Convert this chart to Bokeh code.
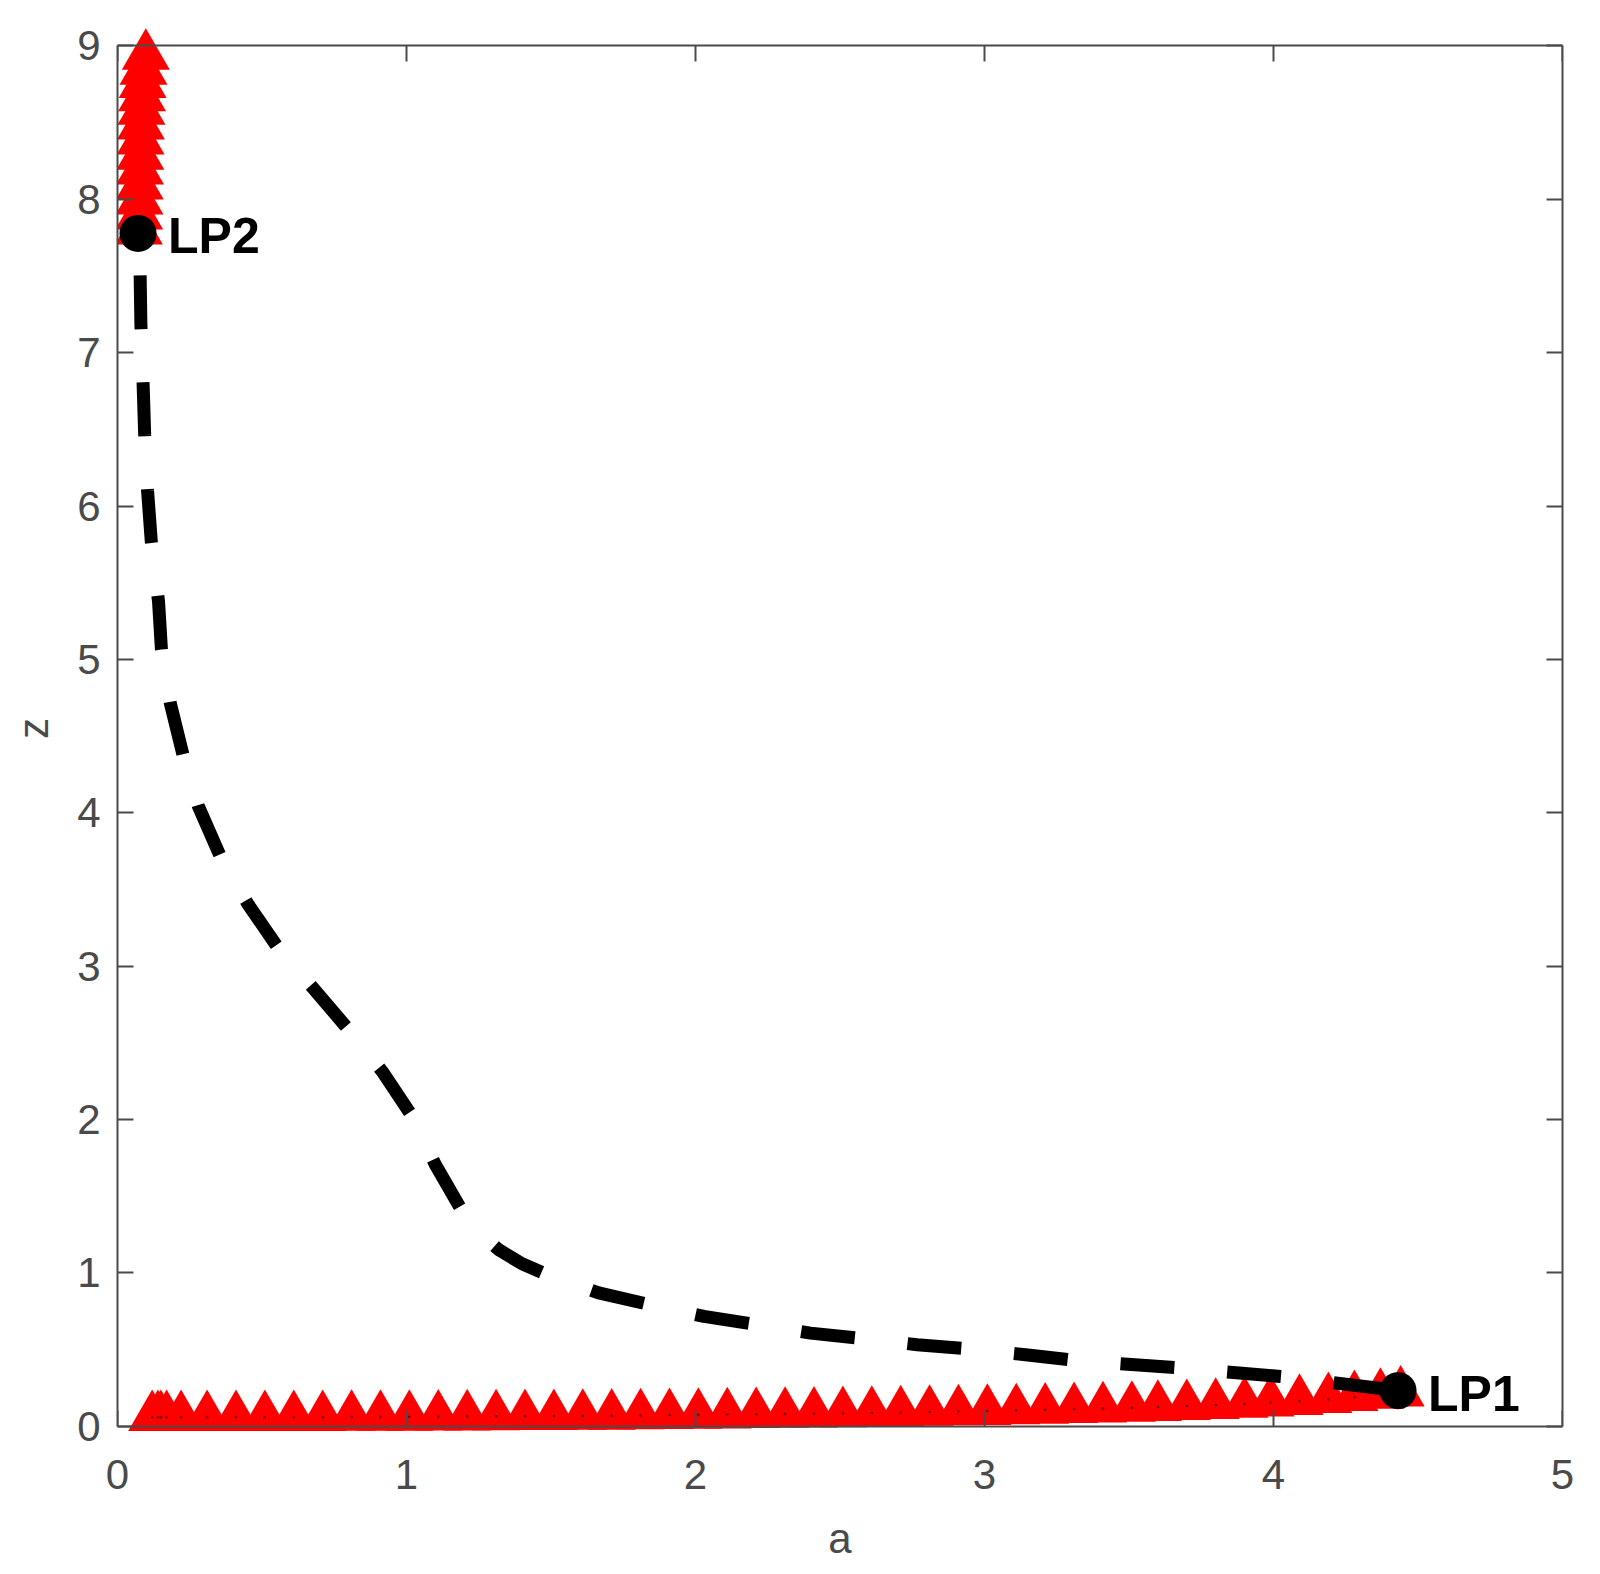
from bokeh.plotting import figure
from bokeh.models import LinearAxis, Range1d, FixedTicker
from bokeh.embed import file_html
from bokeh.resources import INLINE
from bokeh.core.properties import value

# Dashed branch from LP2 to LP1
curve_a = [0.071, 0.078, 0.081, 0.088, 0.094, 0.104, 0.117, 0.142, 0.152, 0.183,
           0.228, 0.280, 0.356, 0.450, 0.557, 0.678, 0.799, 0.916, 1.020, 1.100,
           1.193, 1.250, 1.319, 1.400, 1.487, 1.665, 1.850, 2.029, 2.213, 2.398,
           2.582, 2.767, 2.952, 3.142, 3.337, 3.690, 4.061, 4.431]
curve_z = [7.778, 7.551, 7.179, 6.833, 6.467, 6.101, 5.768, 5.378, 5.065, 4.713,
           4.368, 4.042, 3.716, 3.409, 3.116, 2.855, 2.588, 2.314, 2.021, 1.706,
           1.402, 1.265, 1.152, 1.060, 0.989, 0.870, 0.790, 0.717, 0.663, 0.608,
           0.572, 0.532, 0.504, 0.467, 0.426, 0.379, 0.319, 0.233]

# Limit points
lp_a = [0.071, 4.431]
lp_z = [7.778, 0.233]
lp_labels = ["LP2", "LP1"]

# Red triangle branch going up from LP2
top_a = [0.074, 0.075, 0.076, 0.077, 0.078, 0.079, 0.080, 0.081, 0.083, 0.085,
         0.087, 0.090, 0.098]
top_z = [7.796, 7.893, 7.991, 8.089, 8.187, 8.284, 8.382, 8.480, 8.577, 8.664,
         8.751, 8.837, 8.935]

# Red triangle branch along the bottom, ending at LP1
bottom_a = [0.12, 0.14, 0.15, 0.17, 0.22, 0.31, 0.41, 0.51, 0.61, 0.71, 0.81, 0.91,
            1.01, 1.11, 1.21, 1.31, 1.41, 1.51, 1.61, 1.71, 1.81, 1.91, 2.01, 2.11,
            2.21, 2.31, 2.41, 2.51, 2.61, 2.71, 2.81, 2.91, 3.01, 3.11, 3.21, 3.31,
            3.41, 3.51, 3.60, 3.70, 3.80, 3.90, 3.99, 4.09, 4.19, 4.28, 4.37, 4.44]
bottom_z = [0.060, 0.060, 0.060, 0.060, 0.060, 0.060, 0.060, 0.060, 0.060, 0.060, 0.061, 0.061,
            0.062, 0.063, 0.064, 0.065, 0.066, 0.067, 0.068, 0.069, 0.071, 0.073, 0.075, 0.077,
            0.079, 0.081, 0.083, 0.085, 0.088, 0.091, 0.094, 0.097, 0.100, 0.104, 0.108, 0.112,
            0.116, 0.120, 0.126, 0.132, 0.139, 0.146, 0.155, 0.165, 0.177, 0.190, 0.205, 0.220]

x_ticks = [0, 1, 2, 3, 4, 5]
y_ticks = [0, 1, 2, 3, 4, 5, 6, 7, 8, 9]
x_lim = (0, 5)
y_lim = (0, 9)

AX = "#4a4a4a"
FONT = "Liberation Sans"

# the frame is slightly taller than the axes box so that markers may
# overhang the box, as they do in the original
p = figure(frame_width=1445, frame_height=1408,
           x_range=Range1d(0, 5), y_range=Range1d(-0.04, 9.14),
           output_backend="svg", toolbar_location=None,
           min_border_left=117, min_border_right=24,
           min_border_top=24, min_border_bottom=130,
           background_fill_color="white", border_fill_color="white")

p.xgrid.visible = False
p.ygrid.visible = False
p.outline_line_color = None


def style(ax):
    ax.axis_line_color = AX
    ax.axis_line_width = 2
    ax.major_tick_line_color = AX
    ax.major_tick_line_width = 2
    ax.major_tick_in = 16
    ax.major_tick_out = 0
    ax.minor_tick_line_color = None


xa = p.xaxis[0]
ya = p.yaxis[0]
xa.ticker = FixedTicker(ticks=x_ticks)
ya.ticker = FixedTicker(ticks=y_ticks)
ya.bounds = y_lim
xa.axis_label = "a"
ya.axis_label = "z"
style(ya)
for ax in (xa, ya):
    ax.major_label_text_font = FONT
    ax.major_label_text_font_size = "42px"
    ax.major_label_text_color = AX
    ax.axis_label_text_font = FONT
    ax.axis_label_text_font_size = "42px"
    ax.axis_label_text_font_style = "normal"
    ax.axis_label_text_color = AX

# bottom axis: labels only (it sits at the frame's lower edge, just under z=0)
xa.axis_line_color = None
xa.major_tick_line_color = None
xa.minor_tick_line_color = None
xa.major_tick_in = 0
xa.major_tick_out = 0
xa.major_label_standoff = 27
xa.axis_label_standoff = 23
ya.major_label_standoff = 17
ya.axis_label_standoff = 17

# axis lines and ticks of the box at z=0, z=9 and a=5
bottom_line = LinearAxis(ticker=FixedTicker(ticks=x_ticks), fixed_location=y_lim[0],
                         major_label_text_font_size="1px", major_label_text_color=None,
                         major_label_standoff=0)
top_ax = LinearAxis(ticker=FixedTicker(ticks=x_ticks), fixed_location=y_lim[1],
                    major_label_text_font_size="1px", major_label_text_color=None,
                    major_label_standoff=0)
right_ax = LinearAxis(ticker=FixedTicker(ticks=y_ticks), bounds=y_lim,
                      major_label_text_font_size="1px", major_label_text_color=None,
                      major_label_standoff=0)
for ax in (bottom_line, top_ax, right_ax):
    style(ax)
p.add_layout(bottom_line, "below")
p.add_layout(top_ax, "above")
p.add_layout(right_ax, "right")

# red triangle branches
p.scatter(bottom_a, bottom_z, marker="triangle", size=48,
          fill_color="#ff0000", line_color=None)
p.scatter(top_a, top_z, marker="triangle", size=48,
          fill_color="#ff0000", line_color=None)
p.scatter(bottom_a, bottom_z, size=2, color="#400000", alpha=0.6)

# dashed branch
p.line(curve_a, curve_z, line_color="black", line_width=13,
       line_dash="54 53", line_dash_offset=65)

# limit points and labels
p.scatter(lp_a, lp_z, marker="circle", size=37, fill_color="black", line_color=None)
p.text(lp_a, lp_z, text=lp_labels, text_font=value(FONT), text_font_style="bold",
       text_font_size="50px", text_color="black", text_align="left",
       text_baseline="middle", x_offset=30, y_offset=3)

open("out.html", "w").write(file_html(p, INLINE))
